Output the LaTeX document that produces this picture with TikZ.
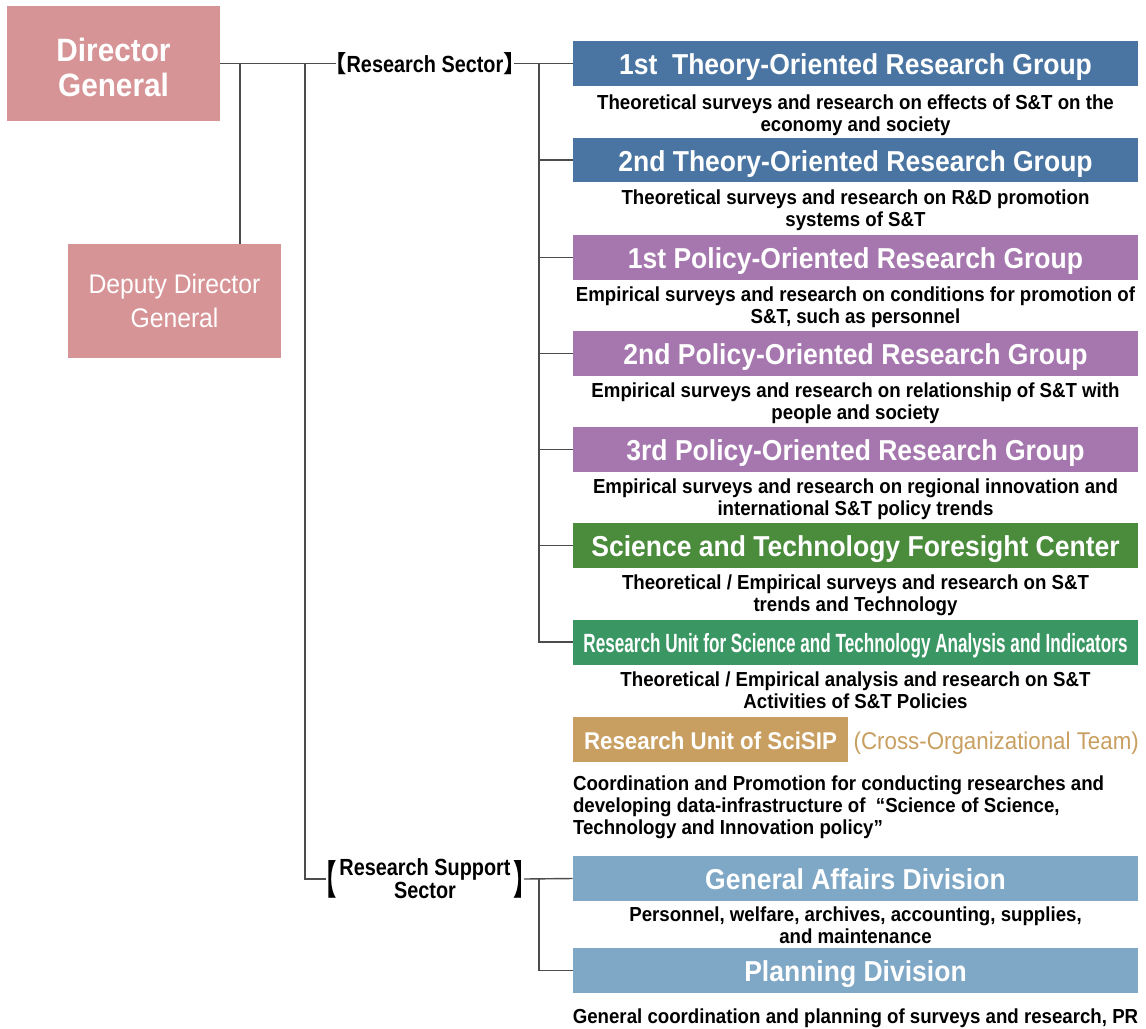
\documentclass[tikz,border=0pt]{standalone}
\usepackage{fontspec}
\setmainfont{Liberation Sans}
\newfontfamily\condfont[FakeStretch=0.92]{Liberation Sans}
\newfontfamily\semifont[FakeStretch=0.85]{Liberation Sans}
\newfontfamily\narrowfont[FakeStretch=0.65]{Liberation Sans}
\newfontfamily\cjk{Noto Sans CJK JP}
\usetikzlibrary{positioning}

\definecolor{dgpink}{HTML}{D79496}
\definecolor{theoblue}{HTML}{4A75A2}
\definecolor{polpurple}{HTML}{A577AE}
\definecolor{foregreen}{HTML}{4A8C3C}
\definecolor{ruaigreen}{HTML}{3A9663}
\definecolor{scitan}{HTML}{C89F60}
\definecolor{supblue}{HTML}{7FA7C6}

\newcommand{\lbrk}{\makebox[0.45em][r]{\cjk 【}}
\newcommand{\rbrk}{\makebox[0.45em][l]{\cjk 】}}

\begin{document}
\begin{tikzpicture}[x=0.02cm, y=-0.02cm,
  head/.style={fill=dgpink, text=white, minimum width=4.26cm, inner sep=0pt, align=center},
  unit/.style={fill=#1, text=white, minimum width=11.3cm, minimum height=0.9cm, inner sep=0pt, text height=13pt, text depth=0pt, font=\condfont\bfseries\fontsize{16.4}{19}\selectfont},
  desc/.style={inner sep=0pt, align=center, font=\condfont\bfseries\fontsize{11.55}{12.5}\selectfont},
  sector/.style={inner sep=0pt, font=\semifont\bfseries\fontsize{13.3}{13}\selectfont},
  brk/.style={inner sep=0pt, font=\bfseries\fontsize{13.3}{13}\selectfont},
  link/.style={draw=black!70, line width=0.8pt}]
  \useasboundingbox (0,0) rectangle (1146,1028);

  % Director General and deputy
  \node[head, minimum height=2.3cm, font=\condfont\bfseries\fontsize{18.4}{19.8}\selectfont] (dg) at (113.5,63.5) {\rule{0pt}{18pt}Director\\General};
  \node[head, minimum height=2.28cm, font=\condfont\fontsize{15.3}{19.3}\selectfont] (dep) at (174.5,301) {Deputy Director\\General};

  % Research sector
  \node[sector] (rsec) at (425,63.5) {\lbrk Research Sector\rbrk};

  \node[unit=theoblue] (t1) at (855.5,63.5) {1st\ \ Theory-Oriented Research Group};
  \node[desc, below=0.16cm of t1] (t1d) {Theoretical surveys and research on effects of S\&T on the\\economy and society};

  \node[unit=theoblue] (t2) at (855.5,160) {2nd Theory-Oriented Research Group};
  \node[desc, below=0.13cm of t2] (t2d) {Theoretical surveys and research on R\&D promotion\\systems of S\&T};

  \node[unit=polpurple] (p1) at (855.5,257.5) {1st Policy-Oriented Research Group};
  \node[desc, below=0.13cm of p1] (p1d) {Empirical surveys and research on conditions for promotion of\\S\&T, such as personnel};

  \node[unit=polpurple] (p2) at (855.5,353.5) {2nd Policy-Oriented Research Group};
  \node[desc, below=0.13cm of p2] (p2d) {Empirical surveys and research on relationship of S\&T with\\people and society};

  \node[unit=polpurple] (p3) at (855.5,449.5) {3rd Policy-Oriented Research Group};
  \node[desc, below=0.13cm of p3] (p3d) {Empirical surveys and research on regional innovation and\\international S\&T policy trends};

  \node[unit=foregreen] (fc) at (855.5,545.5) {Science and Technology Foresight Center};
  \node[desc, below=0.13cm of fc] (fcd) {Theoretical / Empirical surveys and research on S\&T\\trends and Technology};

  \node[unit=ruaigreen, text height=11.5pt, font=\narrowfont\bfseries\fontsize{15}{18}\selectfont] (ru) at (855.5,642) {Research Unit for Science and Technology Analysis and Indicators};
  \node[desc, below=0.13cm of ru] (rud) {Theoretical / Empirical analysis and research on S\&T\\Activities of S\&T Policies};

  % SciSIP team
  \node[unit=scitan, minimum width=5.5cm, text height=11.5pt, font=\condfont\bfseries\fontsize{13.8}{16}\selectfont] (sci) at (710.5,739.5) {Research Unit of SciSIP};
  \node[inner sep=0pt, right=0.1cm of sci, text=scitan, text height=11.5pt, text depth=0pt, font=\condfont\fontsize{13.8}{16}\selectfont] (cross) {(Cross-Organizational Team)};
  \node[desc, align=left, below=0.26cm of sci.south west, anchor=north west] (scid) {Coordination and Promotion for conducting researches and\\developing data-infrastructure of\ \ “Science of Science,\\Technology and Innovation policy”};

  % Research support sector
  \node[sector, align=center] (sup) at (425,879) {Research Support\\Sector};
  \node[brk, left=0.04cm of sup] (supl) {\scalebox{1}[1.7]{\lbrk}};
  \node[brk, right=0.04cm of sup] (supr) {\scalebox{1}[1.7]{\rbrk}};

  \node[unit=supblue] (ga) at (855.5,878.5) {General Affairs Division};
  \node[desc, below=0.1cm of ga] (gad) {Personnel, welfare, archives, accounting, supplies,\\and maintenance};

  \node[unit=supblue] (pl) at (855.5,970.5) {Planning Division};
  \node[desc, below=0.3cm of pl] (pld) {General coordination and planning of surveys and research, PR};

  % Connectors
  \coordinate (j1) at (240,63.5);
  \coordinate (j2) at (305,63.5);
  \coordinate (j3) at (539,63.5);
  \coordinate (j4) at (539,878.5);
  \draw[link] (dg.east) -- (rsec.west);
  \draw[link] (j1) -- (j1 |- dep.north);
  \draw[link] (j2) |- (supl.west);
  \draw[link] (rsec.east) -- (t1.west);
  \draw[link] (j3) |- (ru.west);
  \foreach \g in {t2,p1,p2,p3,fc}
    \draw[link] (j3 |- \g.west) -- (\g.west);
  \draw[link] (supr.east) -- (ga.west);
  \draw[link] (j4) |- (pl.west);
\end{tikzpicture}
\end{document}
